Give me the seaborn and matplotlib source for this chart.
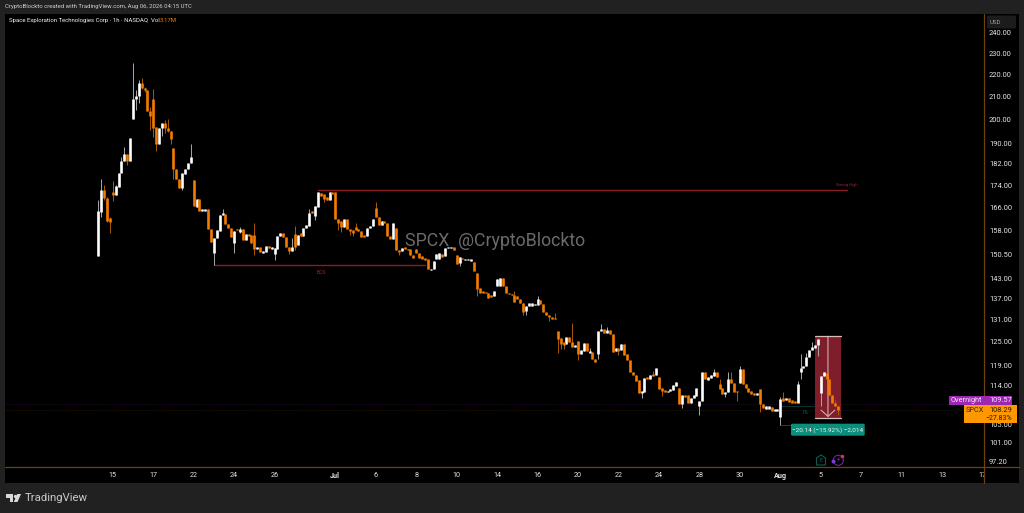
import numpy as np
import pandas as pd
import matplotlib
matplotlib.use("Agg")
import matplotlib.pyplot as plt
import seaborn as sns
from matplotlib.lines import Line2D
from matplotlib.patches import Polygon, Rectangle, FancyBboxPatch
from matplotlib.transforms import Bbox

# ------------------------------------------------------------------------
# Data (1h candles, prices in USD)
# ------------------------------------------------------------------------
opens = [
    149.9, 164.5, 172.2, 169.3, 162.3, 171.7, 170.5, 173.4, 178.7, 183.1,
    185.9, 183.1, 200.1, 208.9, 210.2, 215.8, 213.8, 212.8, 203.7, 208.9,
    196.6, 190.0, 196.4, 198.3, 196.4, 195.2, 188.3, 180.1, 176.5, 172.9,
    178.3, 180.0, 182.3, 175.9, 166.3, 169.1, 164.8, 164.7, 165.5, 158.5,
    150.9, 155.6, 157.9, 163.4, 163.8, 160.3, 158.9, 154.1, 158.5, 157.8,
    158.5, 155.0, 157.0, 156.6, 156.6, 152.0, 152.7, 150.7, 151.2, 153.2,
    152.1, 150.5, 152.2, 156.4, 157.3, 156.0, 152.7, 151.6, 157.1, 153.5,
    157.2, 156.4, 158.9, 159.7, 164.9, 163.0, 166.3, 171.2, 170.9, 169.9,
    168.7, 171.5, 171.5, 162.0, 161.5, 159.4, 162.2, 158.5, 158.3, 159.4,
    158.7, 158.1, 156.7, 156.4, 158.9, 159.6, 166.0, 162.8, 159.9, 161.5,
    160.6, 156.4, 155.5, 158.9, 151.8, 151.4, 152.7, 152.2, 152.0, 150.3,
    152.2, 150.9, 149.8, 149.2, 148.8, 145.5, 145.7, 148.8, 149.0, 150.5,
    149.8, 152.4, 152.5, 152.7, 150.2, 147.8, 149.2, 148.6, 148.5, 148.4,
    148.0, 144.7, 140.1, 139.1, 138.9, 138.5, 138.0, 137.7, 140.7, 140.7,
    143.1, 140.7, 138.7, 138.3, 138.0, 137.7, 137.0, 135.8, 133.5, 134.9,
    134.9, 135.1, 135.1, 136.6, 135.3, 133.2, 132.2, 131.7, 131.5, 127.8,
    126.0, 125.1, 124.4, 126.3, 125.1, 123.7, 125.3, 121.9, 122.7, 124.8,
    122.2, 122.4, 120.7, 121.9, 128.0, 128.6, 127.5, 128.2, 127.1, 122.7,
    123.3, 122.9, 124.5, 121.8, 120.3, 117.3, 116.5, 115.3, 112.3, 112.5,
    116.0, 115.6, 116.8, 116.6, 116.0, 113.4, 113.0, 112.4, 112.7, 113.0,
    114.0, 113.5, 109.7, 111.8, 111.8, 109.8, 111.0, 111.6, 109.2, 110.4,
    117.3, 115.3, 115.8, 116.3, 117.3, 114.3, 113.4, 112.0, 112.4, 115.5,
    114.7, 112.7, 114.7, 118.0, 114.3, 113.4, 112.7, 112.3, 111.8, 113.1,
    109.7, 108.6, 108.6, 109.0, 108.1, 108.1, 106.6, 111.1, 110.6, 111.1,
    110.6, 110.3, 110.0, 117.4, 118.4, 118.8, 121.0, 122.9, 123.4, 124.1,
    112.3, 116.3, 117.1, 115.6, 111.8, 110.0, 109.2,
]
highs = [
    168.7, 176.2, 174.0, 169.9, 162.8, 175.6, 174.0, 178.7, 184.8, 188.5,
    185.9, 192.4, 225.4, 212.8, 217.3, 218.1, 214.1, 212.8, 205.4, 213.0,
    196.6, 196.4, 198.3, 199.7, 200.0, 195.2, 188.3, 180.1, 176.5, 178.5,
    180.0, 182.3, 189.9, 175.9, 169.2, 169.1, 165.4, 165.6, 165.5, 158.5,
    155.6, 158.3, 163.4, 165.4, 163.8, 160.3, 158.9, 158.1, 158.5, 159.4,
    158.5, 157.0, 157.0, 156.6, 160.6, 152.7, 152.7, 151.4, 153.2, 153.2,
    152.8, 152.4, 156.4, 157.3, 157.3, 156.0, 152.7, 155.6, 159.6, 156.7,
    157.2, 158.9, 160.0, 165.4, 164.9, 166.5, 171.4, 171.2, 170.9, 169.9,
    171.4, 171.5, 171.5, 162.0, 161.5, 162.2, 162.2, 158.5, 158.3, 160.8,
    158.7, 158.1, 156.7, 158.9, 159.6, 162.0, 167.8, 162.8, 161.5, 161.5,
    160.6, 156.4, 160.6, 158.9, 151.8, 152.3, 152.7, 152.2, 152.0, 150.3,
    152.2, 150.9, 149.8, 149.2, 148.8, 145.9, 148.4, 150.5, 150.7, 150.5,
    152.4, 152.7, 152.9, 152.7, 150.2, 149.4, 149.2, 148.8, 148.8, 148.8,
    148.0, 144.7, 140.1, 139.1, 138.9, 138.5, 138.0, 139.3, 142.9, 143.1,
    143.1, 140.7, 138.7, 138.3, 139.3, 137.7, 137.0, 135.8, 134.9, 135.7,
    135.7, 135.5, 137.7, 136.6, 135.3, 133.2, 132.2, 131.7, 132.9, 127.8,
    126.0, 125.1, 126.3, 126.3, 130.2, 124.3, 125.3, 122.9, 124.8, 124.8,
    123.3, 122.4, 120.7, 128.0, 129.8, 128.6, 128.9, 128.2, 127.1, 123.4,
    123.3, 124.5, 124.5, 121.8, 120.3, 117.3, 116.5, 115.3, 112.6, 115.8,
    116.0, 116.6, 117.6, 118.2, 116.0, 113.4, 113.0, 112.8, 113.2, 114.1,
    114.9, 113.5, 111.8, 111.8, 111.8, 111.0, 111.8, 113.5, 110.4, 117.3,
    117.3, 116.0, 116.6, 118.0, 117.3, 115.7, 113.4, 112.4, 117.2, 117.2,
    114.7, 112.7, 118.9, 118.0, 114.3, 113.4, 112.7, 112.3, 112.3, 113.1,
    109.7, 109.1, 109.1, 109.0, 108.5, 108.6, 111.2, 112.5, 111.1, 111.1,
    110.6, 110.3, 115.0, 121.9, 118.8, 122.1, 122.9, 125.1, 124.1, 125.9,
    116.3, 117.3, 117.1, 115.6, 111.8, 110.6, 109.2,
]
lows = [
    149.9, 162.8, 168.7, 161.1, 157.4, 168.5, 170.5, 173.4, 178.7, 183.1,
    181.6, 183.1, 200.1, 204.0, 207.1, 213.0, 212.0, 203.7, 195.5, 192.5,
    187.1, 190.0, 193.1, 194.2, 194.8, 190.0, 176.5, 176.5, 172.9, 172.3,
    178.3, 180.0, 182.3, 166.5, 166.3, 164.7, 164.8, 164.7, 158.5, 154.4,
    147.0, 155.6, 157.9, 163.4, 160.3, 158.9, 155.9, 150.7, 158.2, 157.3,
    155.0, 155.0, 156.4, 154.1, 150.2, 152.0, 151.0, 150.7, 151.2, 152.4,
    152.1, 148.6, 152.2, 156.4, 156.0, 152.7, 150.5, 151.6, 151.8, 153.5,
    156.4, 156.4, 158.9, 159.7, 164.0, 161.7, 166.3, 170.0, 168.1, 168.7,
    168.7, 170.9, 162.0, 158.3, 157.8, 159.4, 158.5, 156.7, 156.4, 158.3,
    157.9, 156.1, 156.1, 156.4, 158.9, 159.6, 162.8, 159.9, 159.9, 160.6,
    156.4, 155.5, 155.5, 151.8, 150.2, 151.4, 152.2, 151.8, 150.3, 149.2,
    150.7, 149.2, 149.0, 148.6, 145.7, 145.5, 145.7, 148.8, 149.0, 149.6,
    149.8, 152.4, 152.5, 151.8, 147.4, 146.7, 148.8, 148.6, 148.5, 148.4,
    145.1, 137.7, 138.5, 138.5, 138.5, 137.2, 137.4, 137.7, 140.7, 140.7,
    140.7, 138.7, 138.3, 138.1, 136.0, 136.8, 135.8, 132.2, 132.4, 134.9,
    134.9, 135.1, 135.1, 135.5, 133.2, 132.2, 130.7, 131.3, 131.1, 122.2,
    123.1, 123.1, 124.4, 125.1, 123.7, 123.7, 120.3, 121.9, 122.7, 122.7,
    122.2, 120.7, 119.7, 120.5, 128.0, 127.5, 127.5, 127.1, 122.4, 122.7,
    121.6, 122.9, 121.6, 120.3, 117.3, 116.5, 115.1, 112.3, 111.0, 112.5,
    115.6, 115.6, 116.3, 116.6, 113.3, 111.5, 112.5, 112.4, 112.7, 113.0,
    114.0, 109.7, 108.7, 111.3, 109.8, 109.8, 111.0, 111.6, 107.1, 110.4,
    115.5, 115.3, 115.8, 116.3, 116.1, 113.2, 112.0, 111.3, 112.4, 114.7,
    112.4, 110.4, 114.7, 114.3, 113.4, 112.4, 112.1, 111.8, 111.8, 107.9,
    108.7, 108.6, 108.6, 108.0, 108.1, 108.1, 104.9, 110.4, 110.6, 110.1,
    109.8, 109.8, 110.0, 115.7, 118.4, 118.8, 121.0, 122.9, 123.4, 121.4,
    109.2, 116.3, 115.6, 111.8, 109.8, 109.2, 107.1,
]
closes = [
    164.8, 172.2, 169.3, 161.3, 161.1, 170.5, 173.6, 178.7, 183.1, 185.9,
    183.1, 192.4, 208.9, 210.2, 215.8, 213.8, 212.8, 203.7, 201.6, 196.4,
    190.0, 196.4, 198.3, 196.4, 195.2, 191.8, 180.0, 176.5, 172.9, 178.5,
    180.0, 182.3, 184.6, 166.5, 169.2, 164.7, 165.4, 165.6, 158.5, 154.4,
    155.6, 158.3, 163.4, 164.0, 160.3, 158.9, 155.9, 158.1, 158.2, 158.5,
    155.0, 157.0, 156.4, 154.1, 152.0, 152.7, 151.0, 151.4, 153.2, 152.4,
    152.8, 152.4, 156.4, 157.3, 156.0, 152.7, 151.6, 152.9, 152.9, 156.7,
    156.4, 158.9, 160.0, 164.2, 164.0, 166.5, 171.4, 170.0, 169.2, 168.7,
    171.4, 170.9, 162.0, 160.8, 159.4, 162.2, 158.5, 157.9, 157.2, 158.3,
    157.9, 156.1, 156.1, 158.9, 159.6, 162.0, 162.8, 159.9, 161.5, 160.6,
    156.4, 155.5, 160.6, 151.8, 151.2, 152.3, 152.2, 151.8, 150.3, 149.2,
    150.7, 149.2, 149.0, 148.6, 145.7, 145.9, 148.4, 150.5, 150.7, 149.6,
    152.4, 152.7, 152.9, 151.8, 147.4, 149.4, 148.8, 148.8, 148.8, 148.8,
    145.1, 139.9, 138.5, 138.5, 138.5, 137.2, 137.4, 139.3, 142.9, 143.1,
    140.7, 138.7, 138.3, 138.1, 136.0, 136.8, 135.8, 133.3, 134.9, 135.7,
    135.7, 135.5, 136.8, 135.5, 133.2, 132.2, 131.7, 131.3, 131.1, 125.8,
    124.4, 124.2, 126.3, 125.1, 123.7, 124.3, 121.9, 122.9, 124.8, 122.7,
    122.7, 120.7, 119.7, 128.0, 128.6, 127.5, 128.2, 127.1, 122.4, 123.4,
    122.7, 124.5, 121.6, 120.3, 117.3, 116.5, 115.1, 112.3, 112.6, 115.8,
    115.6, 116.6, 116.3, 118.2, 113.3, 112.7, 112.5, 112.8, 113.2, 114.1,
    114.9, 109.7, 111.8, 111.3, 109.8, 111.0, 111.8, 113.5, 110.4, 117.3,
    115.5, 116.0, 116.6, 117.2, 116.1, 113.2, 112.0, 112.4, 115.5, 114.7,
    112.4, 112.5, 118.0, 114.3, 113.4, 112.4, 112.1, 111.8, 112.3, 109.7,
    108.7, 109.1, 109.1, 108.0, 108.5, 108.6, 110.8, 110.4, 111.1, 110.1,
    109.8, 109.8, 114.5, 118.4, 118.8, 121.0, 122.9, 123.7, 124.1, 125.9,
    116.3, 117.3, 115.6, 111.8, 109.8, 109.2, 108.3,
]

price_ticks = [240, 230, 220, 210, 200, 190, 182, 174, 166, 158, 150.5,
               143, 137, 131, 125, 119, 114, 105, 101, 97.2]
date_bars = [5, 19, 33, 47, 61, 82, 96, 110, 124, 138, 152, 166, 180, 194,
             208, 222, 236, 250, 264, 278, 292, 306]
date_labels = ["15", "17", "22", "24", "26", "Jul", "6", "8", "10", "14", "16",
               "20", "22", "24", "28", "30", "Aug", "5", "7", "11", "13", "17"]

strong_high = 172.3
bos_level = 147.0
measure_top = 126.5
measure_bottom = 106.36
overnight_price = 109.57
last_price = 108.29

ORANGE = "#f57c00"
DARK_RED = "#8a1c26"
AXIS_LINE = "#6b4410"
W, H = 1024, 513

sns.set_style("dark", {"axes.facecolor": "black", "figure.facecolor": "#212121"})
plt.rcParams["font.family"] = ["Roboto", "DejaVu Sans"]

fig = plt.figure(figsize=(W / 100, H / 100), dpi=100)
ax = fig.add_axes([5 / W, 1 - 467 / H, 979 / W, 453 / H])
ax.set_yscale("log")


def fx(x):
    return x / W


def fy(y):
    return 1 - y / H


def label(x, y, s, **kw):
    kw.setdefault("va", "center")
    return fig.text(fx(x), fy(y), s, **kw)


def box(x0, y0, x1, y1, color, z=2):
    fig.add_artist(Rectangle((fx(x0), fy(y1)), (x1 - x0) / W, (y1 - y0) / H,
                             transform=fig.transFigure, facecolor=color,
                             edgecolor="none", zorder=z))


def level(x0, x1, price, color=DARK_RED, lw=1.0):
    seg = pd.DataFrame({"bar": [x0, x1], "price": [price, price]})
    sns.lineplot(data=seg, x="bar", y="price", color=color, linewidth=lw,
                 estimator=None, errorbar=None, legend=False, ax=ax)


# black panel behind the price and time scales
box(5, 14, 1018.5, 482.5, "black", z=-1)

# ------------------------------------------------------------------------
# Long-form tables for wicks and bodies
# ------------------------------------------------------------------------
candles = pd.DataFrame({"open": opens, "high": highs, "low": lows, "close": closes})
candles["bar"] = np.arange(len(candles))
candles["side"] = np.where(candles["close"] >= candles["open"], "up", "down")
wicks = candles.melt(id_vars=["bar", "side"], value_vars=["high", "low"], value_name="price")
bodies = candles.melt(id_vars=["bar", "side"], value_vars=["open", "close"], value_name="price")

# faint price lines and the measure box go under the candles
ax.axhline(overnight_price, color="#3a1548", lw=0.5, ls=(0, (1, 2)), zorder=0)
ax.axhline(last_price, color="#3d2600", lw=0.5, ls=(0, (1, 2)), zorder=0)
ax.fill_between([248, 257], measure_bottom, measure_top, color="#7e1e2a", lw=0, zorder=0.5)

level(76, 259, strong_high)
level(40, 113, bos_level)
level(236, 248, 109.2, color="#0c3d36", lw=0.6)
level(236, 240, 105.0, color="#0c5a4e", lw=0.6)
level(248, 257, measure_top, color="#d9bcbc", lw=0.9)
level(248, 257, measure_bottom, color="#d9bcbc", lw=0.9)

sns.lineplot(data=wicks, x="bar", y="price", hue="side", units="bar", estimator=None,
             palette={"up": "#a8a8a8", "down": "#a85a08"}, linewidth=0.7, legend=False,
             ax=ax, solid_capstyle="butt")
sns.lineplot(data=bodies, x="bar", y="price", hue="side", units="bar", estimator=None,
             palette={"up": "#ffffff", "down": ORANGE}, linewidth=1.9, legend=False,
             ax=ax, solid_capstyle="butt")

ax.annotate("", xy=(252.5, measure_bottom + 0.3), xytext=(252.5, measure_top),
            arrowprops=dict(arrowstyle="->,head_width=0.55,head_length=0.5", color="#d9a9ac",
                            lw=0.8, mutation_scale=9, shrinkA=0, shrinkB=0), zorder=1)

# ------------------------------------------------------------------------
# Axes
# ------------------------------------------------------------------------
ax.set_xlim(-32.3, 306.5)
ax.set_ylim(96.0, 249.8)
ax.set(xlabel=None, ylabel=None)
for s in ax.spines.values():
    s.set_visible(False)
ax.yaxis.tick_right()
ax.set_yticks(price_ticks, [f"{p:.2f}" for p in price_ticks])
ax.minorticks_off()
ax.set_xticks(date_bars, date_labels)
ax.tick_params(axis="y", length=0, pad=3.5, labelsize=5.4, labelcolor="#e4e4e4")
ax.tick_params(axis="x", length=0, pad=3.6, labelsize=5.2, labelcolor="#e4e4e4")
for t in ax.get_xticklabels():
    if t.get_text() in ("Jul", "Aug"):
        t.set_fontweight("bold")
# last date label is cut by the price scale
last = ax.get_xticklabels()[-1]
last.set_clip_on(True)
last.set_clip_box(Bbox([[0, 0], [984, H]]))

# scale borders
fig.add_artist(Line2D([fx(984), fx(984)], [fy(14), fy(482.5)], color=AXIS_LINE, lw=0.9, zorder=2))
fig.add_artist(Line2D([fx(5), fx(1018.5)], [fy(467), fy(467)], color=AXIS_LINE, lw=0.9, zorder=2))

# ------------------------------------------------------------------------
# Header, watermark, notes
# ------------------------------------------------------------------------
label(5, 7, "CryptoBlockto created with TradingView.com, Aug 06, 2026 04:15 UTC",
      color="#d0d0d0", fontsize=4.35)
label(9, 20.7, "Space Exploration Technologies Corp · 1h · NASDAQ  Vol",
      color="#f2f2f2", fontsize=4.3)
label(159.5, 20.7, "3.17M", color=ORANGE, fontsize=4.3)
label(405, 241, "SPCX  @CryptoBlockto", color="#ffffff", alpha=0.42, fontsize=12.8)
label(321, 272.5, "BOS", color="#a0222c", fontsize=3.6, ha="center")
label(846.5, 184.7, "Strong High", color="#a0222c", fontsize=3.0, ha="center")
label(806, 412, "0%", color="#0c6a5c", fontsize=3.4, ha="center")

# USD button
fig.add_artist(FancyBboxPatch((fx(987), fy(28.5)), 29 / W, 13 / H, boxstyle="round,pad=0,rounding_size=0.002",
                              transform=fig.transFigure, facecolor="#1c1c1c", edgecolor="none", zorder=2))
label(990, 22, "USD", color="#a0a0a0", fontsize=4.4)

# price tags
box(949, 395.5, 1012.3, 405, "#9c27b0")
label(951, 400, "Overnight", color="#f3e5f5", fontsize=5.3)
label(989, 400, f"{overnight_price:.2f}", color="#f3e5f5", fontsize=5.3)
box(964, 405.3, 1016.7, 423.3, "#ff9800")
label(966, 410.5, "SPCX", color="#3a2200", fontsize=5.3)
label(989, 410.5, f"{last_price:.2f}", color="#2a1800", fontsize=5.3)
label(985.5, 418, "−27.83%", color="#2a1800", fontsize=5.0)

# measure tag
fig.add_artist(FancyBboxPatch((fx(791), fy(435.7)), 73.7 / W, 12 / H,
                              boxstyle="round,pad=0,rounding_size=0.002",
                              transform=fig.transFigure, facecolor="#0b8f7c",
                              edgecolor="none", zorder=2))
label(827.8, 429.8, "−20.14 (−15.92%) −2,014", color="#f2f2f2", fontsize=4.6, ha="center")

# event icons on the time axis
fig.add_artist(Polygon([(fx(816.5), fy(465)), (fx(816.5), fy(458)), (fx(821), fy(455)),
                        (fx(825.5), fy(458)), (fx(825.5), fy(465))], closed=True,
                       transform=fig.transFigure, facecolor="none", edgecolor="#0b5d54", lw=0.8, zorder=2))
label(821, 460.5, "E", color="#0b6f62", fontsize=4.0, ha="center")
label(838.3, 460.3, "⚡", color="#8e35c8", fontsize=5.0, ha="center")
fig.add_artist(Line2D([fx(838.3 + 5 * np.cos(a)) for a in np.linspace(0, 6.3, 40)],
                      [fy(460.3 + 5 * np.sin(a)) for a in np.linspace(0, 6.3, 40)],
                      color="#6a2a96", lw=0.8, zorder=2))
fig.add_artist(Line2D([fx(832.5)], [fy(461)], marker="o", ms=1.8, color="#7c3fd0", zorder=3))
fig.add_artist(Line2D([fx(841.8)], [fy(456.3)], marker="o", ms=1.5, color="#e0304a", zorder=3))

# TradingView mark at the bottom
for pts in ([(6, 494), (13, 494), (13, 502), (9.5, 502), (9.5, 497.5), (6, 497.5)],
            [(21, 494), (17.5, 502), (13.8, 502), (17.2, 494)]):
    fig.add_artist(Polygon([(fx(x), fy(y)) for x, y in pts], closed=True,
                           transform=fig.transFigure, facecolor="#d8d8d8", edgecolor="none"))
fig.add_artist(Line2D([fx(15.2)], [fy(495.7)], marker="o", ms=2.4, color="#d8d8d8", mew=0))
label(24.7, 498, "TradingView", color="#c9c9c9", fontsize=8.2)

fig.savefig("out.png", dpi=100, facecolor=fig.get_facecolor())
